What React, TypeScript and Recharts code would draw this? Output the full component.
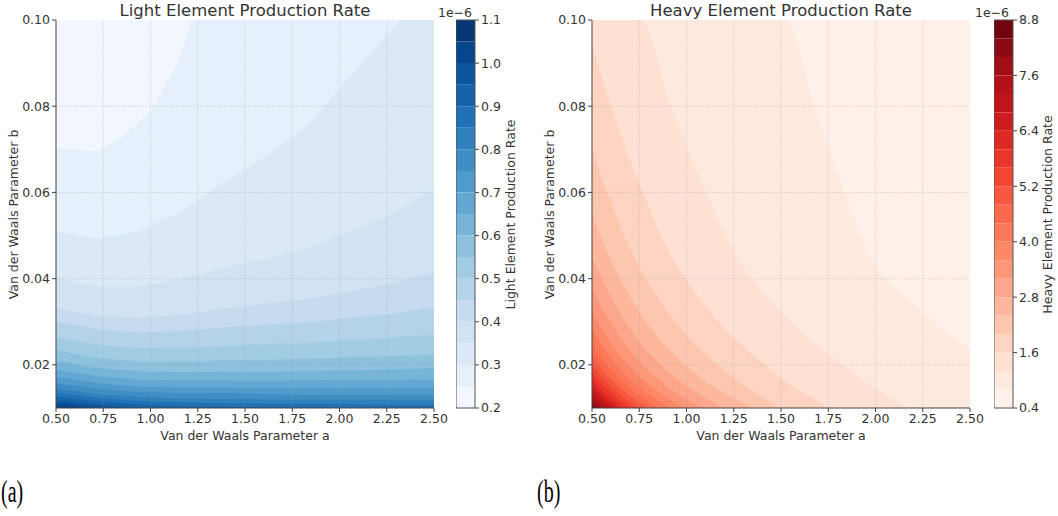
import React from 'react';
import { ComposedChart, Area, XAxis, YAxis, ReferenceLine, ReferenceArea } from 'recharts';

// ---------- axes ----------
const A_TICKS = [0.5, 0.75, 1.0, 1.25, 1.5, 1.75, 2.0, 2.25, 2.5];
const B_TICKS = [0.02, 0.04, 0.06, 0.08, 0.1];
const A_GRID = [0.75, 1.0, 1.25, 1.5, 1.75, 2.0, 2.25];
const B_GRID = [0.02, 0.04, 0.06, 0.08];

// ---------- colour levels ----------
const LIGHT_LEVELS = [0.2, 0.25, 0.3, 0.35, 0.4, 0.45, 0.5, 0.55, 0.6, 0.65, 0.7, 0.75, 0.8, 0.85, 0.9, 0.95, 1.0, 1.05, 1.1];
const LIGHT_TICKS = [0.2, 0.3, 0.4, 0.5, 0.6, 0.7, 0.8, 0.9, 1.0, 1.1];
const HEAVY_LEVELS = [0.4, 0.8, 1.2, 1.6, 2.0, 2.4, 2.8, 3.2, 3.6, 4.0, 4.4, 4.8, 5.2, 5.6, 6.0, 6.4, 6.8, 7.2, 7.6, 8.0, 8.4, 8.8];
const HEAVY_TICKS = [0.4, 1.6, 2.8, 4.0, 5.2, 6.4, 7.6, 8.8];

// ---------- light element contours: [a, b] boundary points (region below = value >= level) ----------
const lightBase = [[0.5, 0.1], [2.5, 0.1]];
const light025 = [[0.5, 0.0702], [0.72, 0.0695], [0.85, 0.073], [1.0, 0.0787], [1.14, 0.0896], [1.22, 0.1], [2.5, 0.1]];
const light030 = [[0.5, 0.051], [0.72, 0.0492], [0.94, 0.051], [1.17, 0.0559], [1.39, 0.0625], [1.61, 0.0683], [1.83, 0.0757], [2.06, 0.087], [2.28, 0.098], [2.32, 0.1], [2.5, 0.1]];
const light035 = [[0.5, 0.0401], [0.72, 0.0381], [0.94, 0.0381], [1.17, 0.0399], [1.39, 0.0426], [1.61, 0.0446], [1.83, 0.0471], [2.06, 0.051], [2.28, 0.055], [2.5, 0.061]];
const light040 = [[0.5, 0.0332], [0.72, 0.0313], [0.94, 0.0309], [1.17, 0.0317], [1.39, 0.0331], [1.61, 0.0341], [1.83, 0.0353], [2.06, 0.0371], [2.28, 0.0389], [2.5, 0.0414]];
const light045 = [[0.5, 0.0301], [0.72, 0.0282], [0.94, 0.0275], [1.17, 0.0279], [1.39, 0.0287], [1.61, 0.0293], [1.83, 0.0299], [2.06, 0.031], [2.28, 0.0319], [2.5, 0.0333]];
const light050 = [[0.5, 0.0265], [0.72, 0.0247], [0.94, 0.0239], [1.17, 0.024], [1.39, 0.0244], [1.61, 0.0248], [1.83, 0.0251], [2.06, 0.0258], [2.28, 0.0264], [2.5, 0.027]];
const light055 = [[0.5, 0.0234], [0.72, 0.0216], [0.94, 0.0209], [1.17, 0.0208], [1.39, 0.0211], [1.61, 0.0212], [1.83, 0.0214], [2.06, 0.0218], [2.28, 0.022], [2.5, 0.0224]];
const light060 = [[0.5, 0.0209], [0.72, 0.0193], [0.94, 0.0185], [1.17, 0.0183], [1.39, 0.0184], [1.61, 0.0184], [1.83, 0.0185], [2.06, 0.0187], [2.28, 0.019], [2.5, 0.0192]];
const light065 = [[0.5, 0.0188], [0.72, 0.0174], [0.94, 0.0165], [1.17, 0.0164], [1.39, 0.0164], [1.61, 0.0163], [1.83, 0.0164], [2.06, 0.0165], [2.28, 0.0165], [2.5, 0.0166]];
const light070 = [[0.5, 0.0172], [0.72, 0.0158], [0.94, 0.0149], [1.17, 0.0147], [1.39, 0.0147], [1.61, 0.0146], [1.83, 0.0146], [2.06, 0.0146], [2.28, 0.0146], [2.5, 0.0147]];
const light075 = [[0.5, 0.0157], [0.72, 0.0145], [0.94, 0.0137], [1.17, 0.0134], [1.39, 0.0134], [1.61, 0.0132], [1.83, 0.0131], [2.06, 0.0131], [2.28, 0.0131], [2.5, 0.0131]];
const light080 = [[0.5, 0.0145], [0.72, 0.0132], [0.94, 0.0126], [1.17, 0.0122], [1.39, 0.0121], [1.61, 0.012], [1.83, 0.012], [2.06, 0.0119], [2.28, 0.0119], [2.5, 0.0118]];
const light085 = [[0.5, 0.0135], [0.72, 0.0124], [0.94, 0.0116], [1.17, 0.0113], [1.39, 0.0111], [1.61, 0.011], [1.83, 0.011], [2.06, 0.0109], [2.28, 0.0108], [2.5, 0.0108]];
const light090 = [[0.5, 0.0126], [0.72, 0.0115], [0.94, 0.0108], [1.17, 0.0104], [1.39, 0.0103], [1.61, 0.0101], [1.83, 0.0101], [2.06, 0.01], [2.5, 0.01]];
const light095 = [[0.5, 0.0117], [0.72, 0.0107], [0.94, 0.01], [2.5, 0.01]];
const light100 = [[0.5, 0.011], [0.72, 0.01], [2.5, 0.01]];
const light105 = [[0.5, 0.0103], [0.56, 0.01], [2.5, 0.01]];

// ---------- heavy element contours ----------
const heavyBase = [[0.5, 0.1], [2.5, 0.1]];
const heavy080 = [[0.5, 0.1], [1.524, 0.1], [1.675, 0.08], [1.837, 0.06], [1.973, 0.045], [2.182, 0.035], [2.39, 0.027], [2.5, 0.0236]];
const heavy120 = [[0.5, 0.1], [0.758, 0.1], [0.919, 0.08], [1.103, 0.06], [1.265, 0.045], [1.443, 0.035], [1.624, 0.027], [1.796, 0.021], [1.95, 0.016], [2.06, 0.013], [2.14, 0.011], [2.18, 0.01], [2.5, 0.01]];
const heavy160 = [[0.5, 0.094], [0.6, 0.08], [0.768, 0.06], [0.923, 0.045], [1.076, 0.035], [1.234, 0.027], [1.388, 0.021], [1.53, 0.016], [1.64, 0.013], [1.72, 0.011], [1.76, 0.01], [2.5, 0.01]];
const heavy200 = [[0.5, 0.0701], [0.58, 0.06], [0.723, 0.045], [0.857, 0.035], [0.998, 0.027], [1.137, 0.021], [1.28, 0.016], [1.38, 0.013], [1.46, 0.011], [1.5, 0.01], [2.5, 0.01]];
const heavy240 = [[0.5, 0.0551], [0.592, 0.045], [0.712, 0.035], [0.839, 0.027], [0.965, 0.021], [1.107, 0.016], [1.217, 0.013], [1.307, 0.011], [1.357, 0.01], [2.5, 0.01]];
const heavy280 = [[0.5, 0.045], [0.608, 0.035], [0.724, 0.027], [0.841, 0.021], [0.972, 0.016], [1.074, 0.013], [1.158, 0.011], [1.205, 0.01], [2.5, 0.01]];
const heavy320 = [[0.5, 0.0378], [0.531, 0.035], [0.638, 0.027], [0.746, 0.021], [0.868, 0.016], [0.964, 0.013], [1.043, 0.011], [1.087, 0.01], [2.5, 0.01]];
const heavy360 = [[0.5, 0.0324], [0.57, 0.027], [0.671, 0.021], [0.786, 0.016], [0.876, 0.013], [0.951, 0.011], [0.993, 0.01], [2.5, 0.01]];
const heavy400 = [[0.5, 0.0282], [0.516, 0.027], [0.611, 0.021], [0.719, 0.016], [0.805, 0.013], [0.875, 0.011], [0.916, 0.01], [2.5, 0.01]];
const heavy440 = [[0.5, 0.0248], [0.561, 0.021], [0.663, 0.016], [0.745, 0.013], [0.812, 0.011], [0.851, 0.01], [2.5, 0.01]];
const heavy480 = [[0.5, 0.0222], [0.519, 0.021], [0.616, 0.016], [0.694, 0.013], [0.759, 0.011], [0.796, 0.01], [2.5, 0.01]];
const heavy520 = [[0.5, 0.0199], [0.576, 0.016], [0.651, 0.013], [0.713, 0.011], [0.748, 0.01], [2.5, 0.01]];
const heavy560 = [[0.5, 0.0181], [0.541, 0.016], [0.613, 0.013], [0.672, 0.011], [0.707, 0.01], [2.5, 0.01]];
const heavy600 = [[0.5, 0.0165], [0.51, 0.016], [0.579, 0.013], [0.637, 0.011], [0.67, 0.01], [2.5, 0.01]];
const heavy640 = [[0.5, 0.0152], [0.55, 0.013], [0.606, 0.011], [0.638, 0.01], [2.5, 0.01]];
const heavy680 = [[0.5, 0.014], [0.524, 0.013], [0.578, 0.011], [0.609, 0.01], [2.5, 0.01]];
const heavy720 = [[0.5, 0.013], [0.552, 0.011], [0.583, 0.01], [2.5, 0.01]];
const heavy760 = [[0.5, 0.0121], [0.529, 0.011], [0.559, 0.01], [2.5, 0.01]];
const heavy800 = [[0.5, 0.0113], [0.508, 0.011], [0.537, 0.01], [2.5, 0.01]];
const heavy840 = [[0.5, 0.0106], [0.518, 0.01], [2.5, 0.01]];

const LIGHT_CONTOURS: [number, number[][]][] = [
  [0.2, lightBase], [0.25, light025], [0.3, light030], [0.35, light035], [0.4, light040], [0.45, light045],
  [0.5, light050], [0.55, light055], [0.6, light060], [0.65, light065], [0.7, light070], [0.75, light075],
  [0.8, light080], [0.85, light085], [0.9, light090], [0.95, light095], [1.0, light100], [1.05, light105],
];
const HEAVY_CONTOURS: [number, number[][]][] = [
  [0.4, heavyBase], [0.8, heavy080], [1.2, heavy120], [1.6, heavy160], [2.0, heavy200], [2.4, heavy240],
  [2.8, heavy280], [3.2, heavy320], [3.6, heavy360], [4.0, heavy400], [4.4, heavy440], [4.8, heavy480],
  [5.2, heavy520], [5.6, heavy560], [6.0, heavy600], [6.4, heavy640], [6.8, heavy680], [7.2, heavy720],
  [7.6, heavy760], [8.0, heavy800], [8.4, heavy840],
];

// ---------- colormaps ----------
const BLUES = ['#f7fbff', '#deebf7', '#c6dbef', '#9ecae1', '#6baed6', '#4292c6', '#2171b5', '#08519c', '#08306b'];
const REDS = ['#fff5f0', '#fee0d2', '#fcbba1', '#fc9272', '#fb6a4a', '#ef3b2c', '#cb181d', '#a50f15', '#67000d'];

function hexToRgb(h: string) {
  return [parseInt(h.slice(1, 3), 16), parseInt(h.slice(3, 5), 16), parseInt(h.slice(5, 7), 16)];
}
function cmap(stops: string[], t: number) {
  const s = Math.max(0, Math.min(1, t)) * (stops.length - 1);
  const i = Math.min(Math.floor(s), stops.length - 2);
  const f = s - i;
  const c0 = hexToRgb(stops[i]);
  const c1 = hexToRgb(stops[i + 1]);
  const c = c0.map((v, k) => Math.round(v + (c1[k] - v) * f));
  return `rgb(${c[0]},${c[1]},${c[2]})`;
}
function bandColor(stops: string[], levels: number[], i: number) {
  return cmap(stops, (i + 0.5) / (levels.length - 1));
}
function levelColor(stops: string[], levels: number[], lv: number) {
  const i = levels.findIndex((v) => Math.abs(v - lv) < 1e-9);
  return bandColor(stops, levels, i);
}

// ---------- layout ----------
const FONT = '"DejaVu Sans", sans-serif';
const TOP = 20;
const PLOT_H = 388;
const PLOT_W = 378;
const YAXIS_W = 56;
const CB_W = 19;
const TXT = '#333';
const AXC = '#444';

const fmt2 = (v: number) => v.toFixed(2);
const fmt1 = (v: number) => v.toFixed(1);

function ContourPanel({ left, contours, stops, levels, curve }: { left: number; contours: [number, number[][]][]; stops: string[]; levels: number[]; curve: 'linear' | 'monotoneX' }) {
  return (
    <div style={{ position: 'absolute', left, top: 0 }}>
      <ComposedChart
        width={YAXIS_W + PLOT_W + 18}
        height={TOP + PLOT_H + 30}
        margin={{ top: TOP, right: 18, bottom: 0, left: 0 }}
      >
        <XAxis
          dataKey="a"
          type="number"
          domain={[0.5, 2.5]}
          ticks={A_TICKS}
          interval={0}
          tickFormatter={fmt2}
          allowDataOverflow
          height={30}
          stroke={AXC}
          tickSize={4}
          tickMargin={2}
          tick={{ fontSize: 12.5, fill: TXT, fontFamily: FONT }}
        />
        <YAxis
          type="number"
          domain={[0.01, 0.1]}
          ticks={B_TICKS}
          interval={0}
          tickFormatter={fmt2}
          allowDataOverflow
          width={YAXIS_W}
          stroke={AXC}
          tickSize={4}
          tickMargin={2}
          tick={{ fontSize: 12.5, fill: TXT, fontFamily: FONT }}
        />
        {contours.map(([lv, pts]) => (
          <Area
            key={lv}
            data={pts.map(([a, b]) => ({ a, b }))}
            dataKey="b"
            type={curve}
            baseValue={0.01}
            fill={levelColor(stops, levels, lv)}
            fillOpacity={1}
            stroke="none"
            dot={false}
            activeDot={false}
            isAnimationActive={false}
          />
        ))}
        {A_GRID.map((a) => (
          <ReferenceLine key={'x' + a} x={a} stroke="#9a9a9a" strokeOpacity={0.45} strokeWidth={0.8} strokeDasharray="1.5 1.5" />
        ))}
        {B_GRID.map((b) => (
          <ReferenceLine key={'y' + b} y={b} stroke="#9a9a9a" strokeOpacity={0.45} strokeWidth={0.8} strokeDasharray="1.5 1.5" />
        ))}
      </ComposedChart>
    </div>
  );
}

function Colorbar({ left, levels, ticks, stops, fmt }: { left: number; levels: number[]; ticks: number[]; stops: string[]; fmt: (v: number) => string }) {
  const lo = levels[0];
  const hi = levels[levels.length - 1];
  return (
    <div style={{ position: 'absolute', left, top: 0 }}>
      <ComposedChart
        width={CB_W + 40}
        height={TOP + PLOT_H + 20}
        margin={{ top: TOP, right: 0, bottom: 20, left: 0 }}
      >
        <XAxis dataKey="x" type="number" domain={[0, 1]} hide />
        <YAxis
          orientation="right"
          type="number"
          domain={[lo, hi]}
          allowDataOverflow
          ticks={ticks}
          interval={0}
          tickFormatter={fmt}
          width={40}
          axisLine={false}
          stroke={AXC}
          tickSize={4}
          tickMargin={2}
          tick={{ fontSize: 12.5, fill: TXT, fontFamily: FONT }}
        />
        {levels.slice(0, -1).map((v, i) => (
          <Area
            key={i}
            data={[{ x: 0, r: [v, levels[i + 1]] }, { x: 1, r: [v, levels[i + 1]] }]}
            dataKey="r"
            type="linear"
            fill={bandColor(stops, levels, i)}
            fillOpacity={1}
            stroke="none"
            dot={false}
            activeDot={false}
            isAnimationActive={false}
          />
        ))}
        <ReferenceArea x1={0} x2={1} y1={lo} y2={hi} fill="none" fillOpacity={0} stroke="#555" strokeWidth={1} />
      </ComposedChart>
    </div>
  );
}

function RotText({ cx, cy, text, size }: { cx: number; cy: number; text: string; size: number }) {
  return (
    <div
      style={{
        position: 'absolute', left: cx - 150, top: cy - size * 0.6, width: 300, height: size * 1.2,
        lineHeight: `${size * 1.2}px`, textAlign: 'center', fontSize: size, fontFamily: FONT, color: TXT,
        transform: 'rotate(-90deg)', whiteSpace: 'nowrap',
      }}
    >
      {text}
    </div>
  );
}

function HText({ cx, cy, text, size }: { cx: number; cy: number; text: string; size: number }) {
  return (
    <div
      style={{
        position: 'absolute', left: cx - 200, top: cy - size * 0.6, width: 400, height: size * 1.2,
        lineHeight: `${size * 1.2}px`, textAlign: 'center', fontSize: size, fontFamily: FONT, color: TXT, whiteSpace: 'nowrap',
      }}
    >
      {text}
    </div>
  );
}

function PanelTag({ left, text }: { left: number; text: string }) {
  return (
    <div
      style={{
        position: 'absolute', left, top: 476, fontFamily: '"Liberation Serif", serif', fontSize: 20, lineHeight: '20px',
        color: '#000', transform: 'scale(1, 1.55)', transformOrigin: 'top left', whiteSpace: 'nowrap',
      }}
    >
      {text}
    </div>
  );
}

export default function App() {
  const L_PLOT = 56;
  const R_PLOT = 592;
  return (
    <div style={{ position: 'absolute', left: 0, top: 0, width: 1058, height: 516, background: '#fff', overflow: 'hidden' }}>
      <ContourPanel left={L_PLOT - YAXIS_W} contours={LIGHT_CONTOURS} stops={BLUES} levels={LIGHT_LEVELS} curve="linear" />
      <ContourPanel left={R_PLOT - YAXIS_W} contours={HEAVY_CONTOURS} stops={REDS} levels={HEAVY_LEVELS} curve="monotoneX" />
      <Colorbar left={456} levels={LIGHT_LEVELS} ticks={LIGHT_TICKS} stops={BLUES} fmt={fmt1} />
      <Colorbar left={994} levels={HEAVY_LEVELS} ticks={HEAVY_TICKS} stops={REDS} fmt={fmt1} />

      <HText cx={L_PLOT + PLOT_W / 2} cy={10.5} text="Light Element Production Rate" size={16.5} />
      <HText cx={R_PLOT + PLOT_W / 2} cy={10.5} text="Heavy Element Production Rate" size={16.5} />
      <HText cx={L_PLOT + PLOT_W / 2} cy={435} text="Van der Waals Parameter a" size={12.5} />
      <HText cx={R_PLOT + PLOT_W / 2} cy={435} text="Van der Waals Parameter a" size={12.5} />
      <RotText cx={13} cy={TOP + PLOT_H / 2} text="Van der Waals Parameter b" size={12.5} />
      <RotText cx={R_PLOT - 43} cy={TOP + PLOT_H / 2} text="Van der Waals Parameter b" size={12.5} />
      <RotText cx={510} cy={TOP + PLOT_H / 2} text="Light Element Production Rate" size={12.5} />
      <RotText cx={1047} cy={TOP + PLOT_H / 2} text="Heavy Element Production Rate" size={12.5} />
      <HText cx={455} cy={12} text="1e−6" size={12.5} />
      <HText cx={992} cy={12} text="1e−6" size={12.5} />

      <PanelTag left={1} text="(a)" />
      <PanelTag left={537} text="(b)" />
    </div>
  );
}
